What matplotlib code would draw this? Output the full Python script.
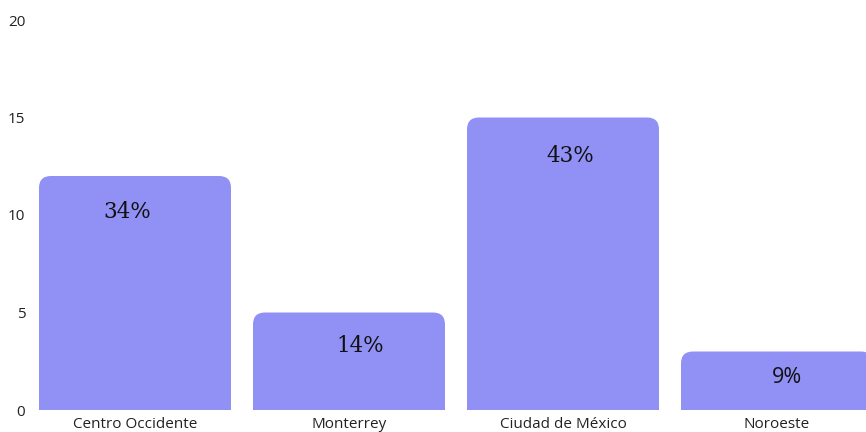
import matplotlib.pyplot as plt
from matplotlib.patches import FancyBboxPatch

regiones = ["Centro Occidente", "Monterrey", "Ciudad de México", "Noroeste"]
valores = [12, 5, 15, 3]
etiquetas = ["34%", "14%", "43%", "9%"]

color = "#9090f5"

fig = plt.figure(figsize=(8.66, 4.32), dpi=100)
W, H = 866, 432
# axes runs a bit past the right edge, the last bar is clipped in the original
ax = fig.add_axes([28 / W, (H - 410) / H, 856 / W, 390 / H])
ax.set_xlim(-0.5, 3.5)
ax.set_ylim(0, 20)

px_x = 856 / 4      # pixels per x unit
px_y = 390 / 20     # pixels per y unit
ancho = 192 / px_x
radio = 12 / px_x

for i, v in enumerate(valores):
    p = FancyBboxPatch((i - ancho / 2, -2), ancho, v + 2,
                       boxstyle=f"round,pad=0,rounding_size={radio}",
                       mutation_aspect=px_x / px_y,
                       fc=color, ec="none", clip_on=True)
    ax.add_patch(p)

dx = [-8, 11, 7, 10]
dy = [36, 33, 38, 26]
for i, (v, t) in enumerate(zip(valores, etiquetas)):
    fam = "DejaVu Serif" if i < 3 else "Open Sans"
    ax.text(i + dx[i] / px_x, v - dy[i] / px_y, t, ha="center", va="center",
            fontsize=15.5, family=fam, color="#111111")

ax.set_yticks([0, 5, 10, 15, 20])
ax.set_xticks(range(len(regiones)))
ax.set_xticklabels(regiones)
for lab in ax.get_xticklabels() + ax.get_yticklabels():
    lab.set_family("Open Sans")
    lab.set_fontsize(11)
    lab.set_color("#222222")
ax.tick_params(length=0)
ax.tick_params(axis="x", pad=5)
ax.tick_params(axis="y", pad=2)
for s in ax.spines.values():
    s.set_visible(False)

fig.savefig("out.png", dpi=100)
